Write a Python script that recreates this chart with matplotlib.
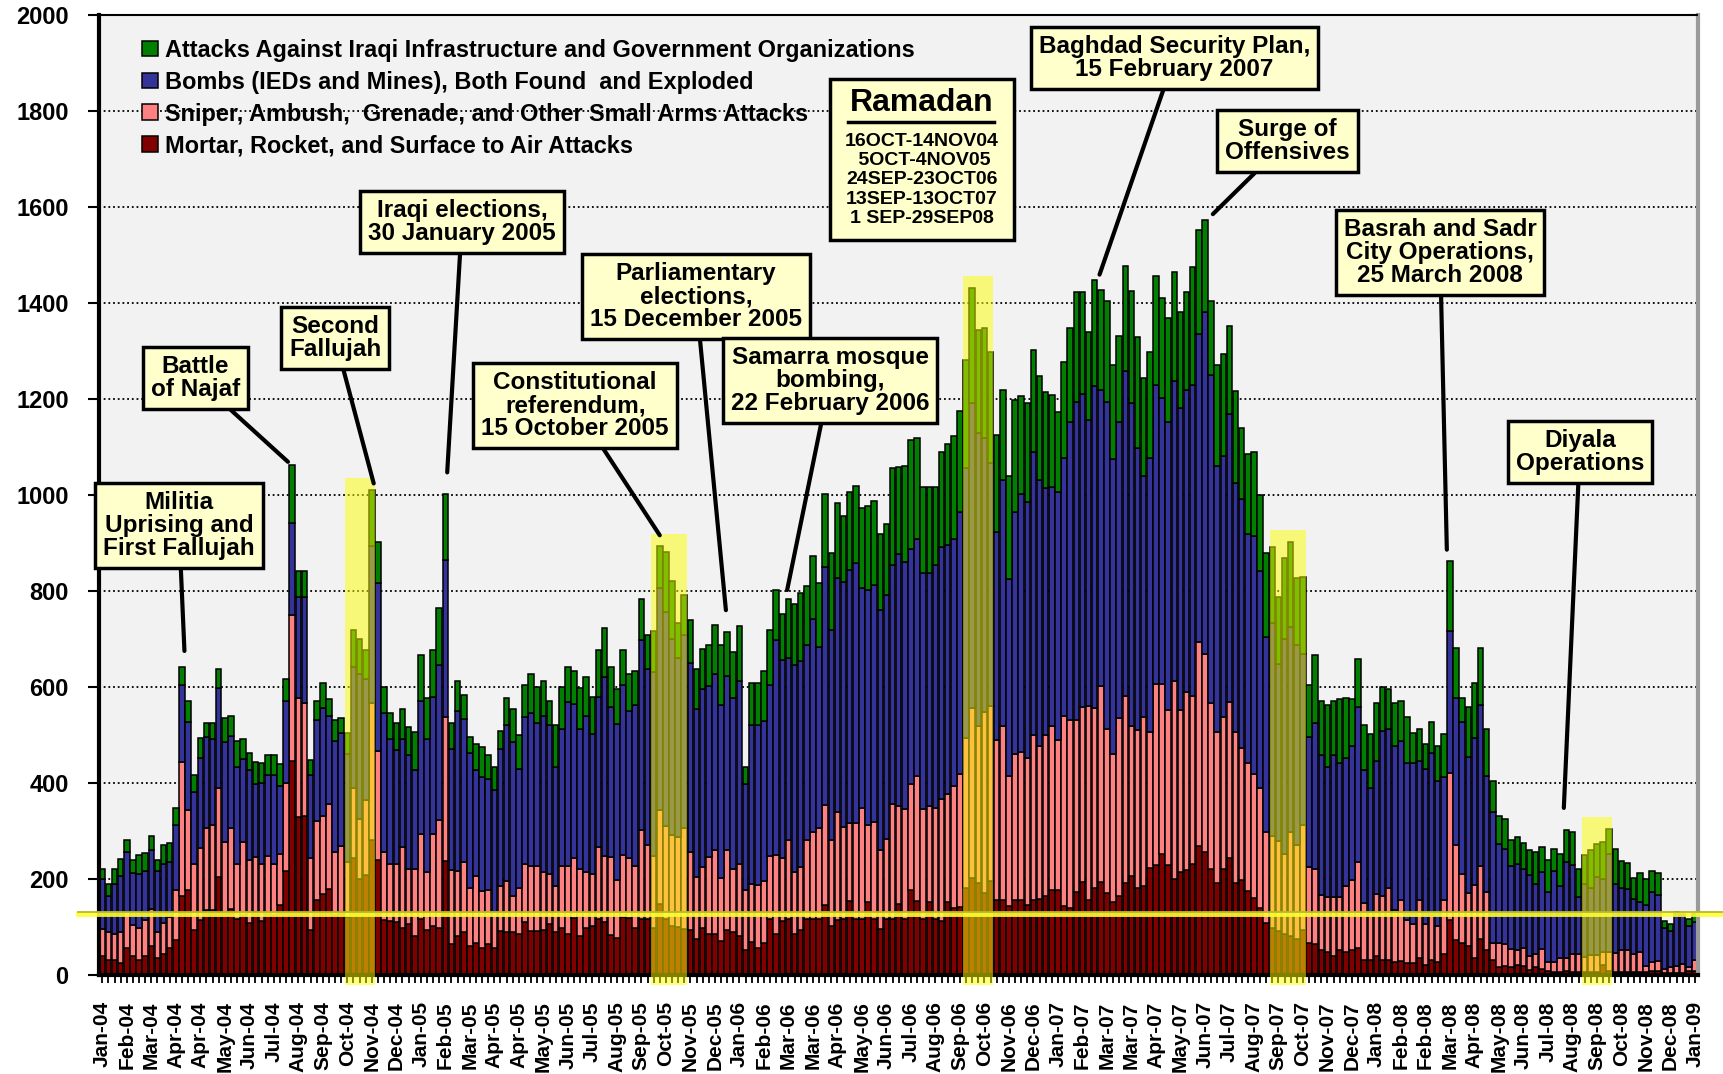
import numpy as np
import pandas as pd
import matplotlib
matplotlib.use('Agg')
import matplotlib.pyplot as plt
from matplotlib.patches import Rectangle

plt.rcParams['font.family'] = ['Liberation Sans', 'DejaVu Sans']
plt.rcParams['font.weight'] = 'bold'

# weekly periods, one bar per week, label every 4th week
weeks = pd.date_range('2004-01-09', periods=261, freq='7D')
week_labels = [d.strftime('%b-%y') for d in weeks[::4]]

# Mortar, Rocket, and Surface to Air Attacks
mortar = [
    40, 32, 32, 24, 56, 40, 32, 40, 60, 36,
    44, 56, 72, 164, 176, 94, 114, 136, 136, 204,
    128, 138, 116, 124, 108, 132, 112, 128, 124, 146,
    216, 446, 330, 332, 94, 156, 168, 180, 124, 128,
    120, 244, 200, 208, 282, 240, 114, 112, 110, 98,
    106, 82, 116, 94, 102, 98, 238, 64, 82, 90,
    60, 66, 56, 64, 56, 92, 90, 90, 86, 110,
    92, 92, 94, 106, 90, 98, 86, 118, 82, 98,
    102, 116, 110, 84, 78, 120, 118, 98, 116, 116,
    98, 148, 116, 102, 100, 96, 94, 74, 98, 86,
    86, 70, 94, 90, 82, 52, 68, 56, 66, 116,
    86, 112, 116, 86, 94, 116, 116, 116, 146, 102,
    114, 116, 154, 116, 116, 152, 116, 96, 116, 116,
    148, 116, 178, 154, 116, 152, 116, 112, 152, 140,
    142, 181, 202, 191, 170, 195, 156, 156, 143, 156,
    156, 146, 156, 159, 165, 178, 178, 143, 140, 173,
    193, 156, 181, 193, 170, 152, 165, 191, 207, 181,
    186, 223, 229, 252, 229, 199, 215, 218, 231, 269,
    257, 220, 191, 220, 244, 191, 197, 175, 160, 140,
    108, 98, 92, 86, 82, 74, 94, 66, 64, 52,
    48, 40, 52, 48, 52, 56, 32, 32, 40, 32,
    32, 26, 30, 24, 24, 36, 20, 32, 28, 44,
    114, 72, 66, 60, 36, 74, 52, 32, 16, 18,
    16, 20, 18, 10, 16, 12, 8, 6, 6, 8,
    6, 6, 6, 6, 6, 20, 8, 6, 6, 6,
    6, 6, 6, 8, 8, 4, 4, 4, 4, 8, 8]

# Sniper, Ambush, Grenade, and Other Small Arms Attacks
sniper = [
    56, 58, 54, 66, 76, 64, 66, 74, 78, 54,
    64, 64, 104, 280, 168, 138, 150, 170, 176, 186,
    150, 168, 116, 154, 132, 114, 120, 120, 108, 106,
    184, 304, 248, 234, 150, 164, 164, 176, 132, 140,
    116, 146, 124, 156, 284, 226, 142, 120, 122, 168,
    114, 138, 178, 120, 192, 224, 300, 154, 134, 146,
    122, 140, 118, 114, 76, 94, 106, 74, 96, 122,
    136, 136, 120, 104, 96, 130, 142, 126, 138, 116,
    108, 150, 138, 162, 120, 130, 126, 130, 186, 154,
    150, 196, 194, 190, 188, 210, 162, 130, 126, 160,
    174, 132, 166, 130, 150, 126, 122, 132, 130, 132,
    164, 132, 166, 128, 130, 166, 182, 190, 208, 180,
    226, 192, 162, 200, 232, 160, 202, 164, 168, 240,
    204, 230, 220, 260, 230, 200, 232, 254, 226, 254,
    276, 313, 354, 327, 377, 365, 333, 362, 272, 304,
    309, 306, 344, 319, 335, 340, 311, 396, 391, 358,
    365, 404, 375, 410, 343, 308, 370, 390, 311, 329,
    351, 284, 377, 354, 324, 414, 338, 372, 350, 424,
    411, 346, 316, 317, 325, 316, 276, 266, 258, 250,
    190, 192, 188, 166, 216, 196, 218, 158, 156, 114,
    114, 122, 110, 138, 146, 180, 118, 100, 128, 132,
    150, 110, 126, 90, 82, 120, 86, 92, 74, 112,
    306, 198, 144, 110, 152, 154, 120, 34, 50, 46,
    38, 32, 38, 30, 28, 42, 18, 20, 30, 28,
    38, 38, 32, 36, 36, 28, 40, 40, 46, 46,
    38, 42, 12, 18, 22, 8, 12, 14, 18, 8, 24]

# Bombs (IEDs and Mines), Both Found and Exploded
bombs = [
    104, 75, 104, 116, 124, 108, 112, 102, 122, 126,
    124, 116, 136, 160, 184, 150, 188, 190, 180, 208,
    208, 192, 202, 172, 188, 152, 168, 168, 184, 142,
    170, 192, 210, 222, 172, 212, 224, 184, 232, 236,
    224, 252, 302, 252, 328, 350, 290, 260, 236, 226,
    238, 208, 276, 278, 286, 324, 326, 252, 334, 298,
    280, 222, 238, 230, 254, 284, 324, 322, 248, 306,
    318, 296, 326, 310, 248, 284, 340, 320, 292, 326,
    292, 314, 372, 312, 324, 354, 306, 334, 396, 368,
    384, 462, 446, 408, 372, 402, 394, 350, 372, 356,
    366, 360, 362, 356, 380, 220, 330, 332, 334, 356,
    448, 412, 378, 432, 430, 406, 444, 378, 496, 436,
    486, 510, 528, 542, 458, 490, 494, 500, 508, 498,
    524, 514, 490, 494, 492, 486, 506, 526, 518, 514,
    547, 562, 635, 612, 572, 506, 434, 513, 409, 504,
    537, 533, 590, 553, 515, 499, 518, 538, 622, 663,
    652, 597, 672, 616, 681, 614, 618, 677, 673, 588,
    502, 570, 624, 597, 600, 625, 629, 629, 649, 643,
    714, 683, 553, 544, 600, 517, 518, 478, 497, 452,
    406, 444, 368, 448, 426, 418, 356, 272, 304, 292,
    272, 296, 280, 266, 278, 322, 278, 258, 278, 344,
    330, 342, 332, 328, 336, 290, 324, 338, 302, 256,
    296, 308, 318, 284, 306, 334, 242, 274, 206, 198,
    174, 180, 164, 168, 146, 160, 146, 190, 150, 200,
    186, 118, 152, 140, 162, 152, 204, 144, 130, 128,
    114, 104, 128, 146, 136, 86, 76, 110, 102, 86, 78]

# Attacks Against Iraqi Infrastructure and Government Organizations
infra = [
    20, 25, 30, 36, 26, 28, 40, 38, 30, 24,
    38, 38, 36, 38, 42, 34, 42, 28, 32, 40,
    50, 42, 54, 42, 34, 46, 42, 42, 42, 46,
    46, 120, 54, 54, 32, 38, 52, 34, 44, 32,
    44, 76, 74, 60, 116, 86, 54, 54, 56, 62,
    58, 78, 96, 86, 96, 118, 138, 54, 62, 50,
    34, 54, 62, 50, 48, 38, 56, 68, 70, 66,
    80, 76, 72, 50, 86, 88, 74, 70, 86, 80,
    78, 96, 102, 84, 74, 72, 76, 72, 86, 70,
    84, 88, 126, 120, 74, 84, 90, 84, 84, 86,
    104, 126, 92, 96, 114, 36, 88, 88, 104, 114,
    104, 96, 124, 126, 142, 122, 130, 132, 152, 162,
    158, 138, 162, 160, 166, 174, 176, 158, 148, 202,
    182, 200, 226, 210, 178, 178, 162, 198, 210, 214,
    210, 225, 241, 213, 228, 231, 201, 188, 215, 234,
    204, 206, 212, 216, 200, 192, 165, 201, 194, 228,
    212, 182, 220, 208, 211, 196, 179, 220, 233, 231,
    205, 220, 226, 208, 216, 226, 200, 203, 244, 216,
    191, 156, 210, 213, 183, 193, 149, 167, 175, 158,
    176, 158, 140, 168, 178, 138, 162, 108, 142, 112,
    128, 112, 132, 126, 98, 100, 92, 112, 120, 92,
    84, 88, 82, 96, 62, 66, 52, 66, 72, 90,
    146, 104, 50, 104, 114, 120, 98, 64, 60, 62,
    54, 56, 54, 52, 66, 52, 68, 46, 66, 66,
    68, 58, 60, 78, 68, 76, 52, 72, 56, 54,
    44, 60, 54, 44, 46, 14, 14, 4, 4, 14, 18]

series_names = ['Mortar, Rocket, and Surface to Air Attacks',
                'Sniper, Ambush,  Grenade, and Other Small Arms Attacks',
                'Bombs (IEDs and Mines), Both Found  and Exploded',
                'Attacks Against Iraqi Infrastructure and Government Organizations']
series_colors = ['#800000', '#FF8080', '#333399', '#007F00']

ramadan_periods = [('2004-10-16', '2004-11-14'), ('2005-10-05', '2005-11-04'),
                   ('2006-09-24', '2006-10-23'), ('2007-09-13', '2007-10-13'),
                   ('2008-09-01', '2008-09-29')]
ramadan_lines = ['16OCT-14NOV04', ' 5OCT-4NOV05', '24SEP-23OCT06',
                 '13SEP-13OCT07', '1 SEP-29SEP08']

# callouts: text, text position (week index, value), target (week index, value)
events = [
    ('Militia\nUprising and\nFirst Fallujah', (12.5, 937), (13.4, 675)),
    ('Battle\nof Najaf', (15.2, 1244), (30.3, 1069)),
    ('Second\nFallujah', (38.0, 1326), (44.3, 1024)),
    ('Iraqi elections,\n30 January 2005', (58.7, 1569), (56.3, 1047)),
    ('Parliamentary\nelections,\n15 December 2005', (96.9, 1413), (101.8, 760)),
    ('Constitutional\nreferendum,\n15 October 2005', (77.2, 1186), (91.0, 916)),
    ('Samarra mosque\nbombing,\n22 February 2006', (118.8, 1239), (111.8, 802)),
    ('Baghdad Security Plan,\n15 February 2007', (175.0, 1910), (162.8, 1459)),
    ('Surge of\nOffensives', (193.5, 1738), (181.3, 1585)),
    ('Basrah and Sadr\nCity Operations,\n25 March 2008', (218.4, 1505), (219.5, 886)),
    ('Diyala\nOperations', (241.2, 1090), (238.6, 348)),
]
ref_line_level = 127

fig = plt.figure(figsize=(17.24, 10.74), dpi=100)
ax = fig.add_axes([0.0576, 0.0922, 0.9273, 0.8939])
ax.set_facecolor('#F2F2F2')

x = np.arange(len(weeks))
bottom = np.zeros(len(weeks))
handles = []
for vals, name, color in zip([mortar, sniper, bombs, infra], series_names, series_colors):
    vals = np.array(vals, dtype=float)
    h = ax.bar(x, vals, width=0.9, bottom=bottom, color=color, edgecolor='black',
               linewidth=1.1, label=name, zorder=2)
    handles.append(h)
    bottom = bottom + vals
totals = bottom

# Ramadan highlights
for start, end in ramadan_periods:
    s, e = pd.Timestamp(start), pd.Timestamp(end)
    idx = np.where((weeks + pd.Timedelta(days=6) >= s) & (weeks <= e))[0]
    top = totals[idx].max() + 25
    ax.add_patch(Rectangle((idx[0] - 0.45, -20), len(idx) - 0.1, top + 20, facecolor='#FFFF00',
                           alpha=0.5, linewidth=0, zorder=3, clip_on=False))

# yellow reference line across the chart
ax.plot([-4, 265], [ref_line_level, ref_line_level], color='#FFFF33', lw=3.5,
        zorder=4, clip_on=False, alpha=0.9)
ax.plot([-4, 265], [ref_line_level + 4, ref_line_level + 4], color='#B8B830', lw=1.3,
        zorder=4, clip_on=False)

ax.set_ylim(0, 2000)
ax.set_xlim(-0.5, len(weeks) - 0.5)
ax.set_yticks(np.arange(0, 2001, 200))
ax.tick_params(axis='y', labelsize=17, length=8, width=1.5, pad=14)
ax.set_xticks(x[::4])
ax.set_xticklabels(week_labels, rotation=90, fontsize=15, fontweight='bold')
ax.set_xticks(x, minor=True)
ax.tick_params(axis='x', which='both', length=6, width=1.3, pad=13)
for lab in ax.get_yticklabels():
    lab.set_fontweight('bold')

ax.set_axisbelow(True)
ax.yaxis.grid(True, linestyle=(0, (1, 1.6)), color='black', linewidth=1.3)
ax.spines['left'].set_linewidth(3)
ax.spines['bottom'].set_linewidth(3)
ax.spines['top'].set_linestyle((0, (1, 1)))
ax.spines['top'].set_linewidth(1.5)
ax.spines['right'].set_color('#9A9A9A')
ax.spines['right'].set_linewidth(3)

leg = ax.legend(handles=handles[::-1], loc='upper left', bbox_to_anchor=(0.021, 0.985),
                frameon=False, fontsize=16.9, handlelength=0.65, handleheight=0.65,
                handletextpad=0.3, labelspacing=0.38, borderaxespad=0)

box_style = dict(boxstyle='square,pad=0.33', facecolor='#FFFFCC', edgecolor='black', linewidth=2.5)
for text, (tx, ty), (px, py) in events:
    ax.annotate(text, xy=(px, py), xytext=(tx, ty), ha='center', va='center',
                fontsize=17.5, fontweight='bold', linespacing=1.0, bbox=box_style,
                arrowprops=dict(arrowstyle='-', lw=3, color='black', shrinkA=0, shrinkB=0),
                zorder=6, annotation_clip=False)

# Ramadan box
fig.patches.append(Rectangle((830 / 1724, 1 - 240 / 1074), 184 / 1724, 161 / 1074,
                             transform=fig.transFigure, facecolor='#FFFFCC',
                             edgecolor='black', linewidth=2.5, zorder=6))
fig.text(922 / 1724, 1 - 103 / 1074, 'Ramadan', ha='center', va='center',
         fontsize=23, fontweight='bold', zorder=7)
fig.lines.append(plt.Line2D([848 / 1724, 994 / 1724], [1 - 122 / 1074, 1 - 122 / 1074],
                            transform=fig.transFigure, color='black', lw=2.5, zorder=7))
fig.text(922 / 1724, 1 - 180 / 1074, '\n'.join(ramadan_lines), ha='center', va='center',
         fontsize=14, fontweight='bold', linespacing=1.17, zorder=7)

fig.savefig('out.png', dpi=100)
